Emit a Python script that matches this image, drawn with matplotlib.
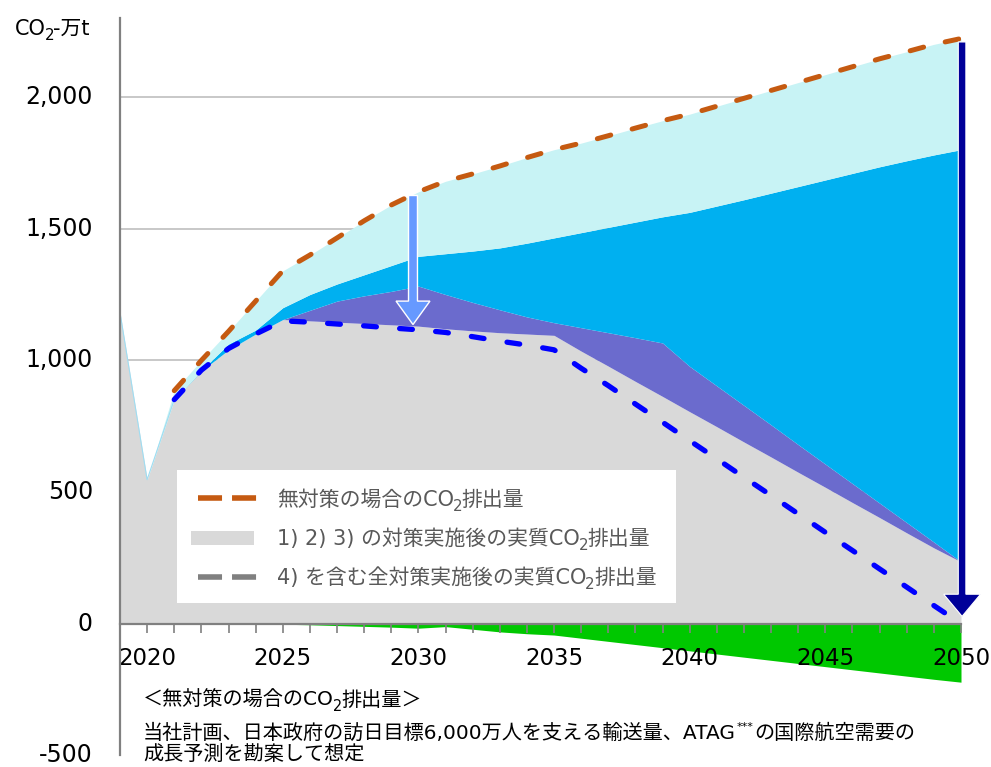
import matplotlib
matplotlib.use("Agg")
import matplotlib.pyplot as plt
import numpy as np
from matplotlib.patches import FancyArrow, Rectangle
from matplotlib.lines import Line2D

plt.rcParams['lines.scale_dashes'] = False
FAM = ['DejaVu Sans', 'Noto Sans CJK JP']
plt.rcParams['font.family'] = FAM

# ---------------- data (万t-CO2) ----------------
years = list(range(2019, 2051))
# top of grey area: real emissions after measures 1) 2) 3)
gray = [1182, 547, 851, 960, 1040, 1100, 1155, 1150, 1145, 1140, 1135, 1130,
        1120, 1112, 1105, 1100, 1095, 1035, 978, 920, 863, 805, 748, 690,
        633, 575, 518, 460, 403, 345, 288, 235]
# top of purple band
purple_top = [1182, 547, 851, 960, 1040, 1100, 1155, 1190, 1225, 1245, 1262, 1282,
              1250, 1220, 1192, 1165, 1143, 1124, 1105, 1086, 1066, 977, 903, 829,
              755, 680, 606, 532, 458, 384, 310, 235]
# top of bright blue band
blue_top = [1182, 547, 851, 962, 1062, 1115, 1200, 1250, 1290, 1325, 1360, 1395,
            1405, 1415, 1427, 1445, 1465, 1485, 1505, 1525, 1545, 1562, 1586, 1610,
            1635, 1660, 1685, 1710, 1735, 1758, 1780, 1800]
# emissions without measures (top of light cyan band / orange dashed line)
no_measure = [1182, 547, 885, 1000, 1110, 1225, 1340, 1400, 1465, 1530, 1590, 1640,
              1680, 1708, 1738, 1770, 1800, 1825, 1853, 1882, 1910, 1935, 1965, 1995,
              2025, 2055, 2085, 2115, 2145, 2172, 2200, 2222]
# negative (removal) band
green = [0, 0, 0, 0, 0, 0, -2, -4, -7, -10, -13, -17,
         -11, -21, -31, -38, -43, -55, -67, -79, -91, -103, -115, -127,
         -139, -151, -163, -175, -187, -199, -211, -222]
# net emissions including measure 4) (blue dashed), 2021-2050
net_years = list(range(2021, 2051))
net = [851, 963, 1045, 1100, 1150, 1145, 1138, 1131, 1123, 1116,
       1106, 1090, 1073, 1058, 1040, 970, 904, 834, 765, 695,
       626, 556, 487, 417, 347, 278, 208, 139, 69, 0]

ytick_vals = [-500, 0, 500, 1000, 1500, 2000]
ytick_labels = ['-500', '0', '500', '1,000', '1,500', '2,000']
xlabel_years = [2020, 2025, 2030, 2035, 2040, 2045, 2050]

SUB = ("2", 0.72, 0.26, -1.0)
legend_labels = [
    [("無対策の場合のCO", 1, 0, -1.0), SUB, ("排出量", 1, 0, 0)],
    [("1) 2) 3) の対策実施後の実質CO", 1, 0, -1.0), SUB, ("排出量", 1, 0, 0)],
    [("4) を含む全対策実施後の実質CO", 1, 0, -1.0), SUB, ("排出量", 1, 0, 0)],
]

# ---------------- figure ----------------
W, H = 991, 767
fig = plt.figure(figsize=(W / 100, H / 100), dpi=100)
ax_top, ax_bot = 18.0, 755.4
ax = fig.add_axes([120 / W, (H - ax_bot) / H, (961 - 120) / W, (ax_bot - ax_top) / H])

yrs = np.array(years)
ax.fill_between(yrs, 0, gray, color='#D9D9D9', lw=0, zorder=1)
ax.fill_between(yrs, gray, purple_top, color='#6B6BCD', lw=0, zorder=1)
ax.fill_between(yrs, purple_top, blue_top, color='#00B0F0', lw=0, zorder=1)
ax.fill_between(yrs, blue_top, no_measure, color='#C8F3F5', lw=0, zorder=1)
ax.fill_between(yrs, green, 0, color='#00C800', lw=0, zorder=1)
ax.plot(yrs[:3], gray[:3], color='#9FDDF2', lw=0.8, zorder=1.1)

for v in [500, 1000, 1500, 2000]:
    ax.axhline(v, color='#BFBFBF', lw=1.2, zorder=0.5)

ax.plot(yrs[2:], no_measure[2:], color='#C55A11', lw=3.6, dashes=(10, 16),
        dash_capstyle='round', zorder=4)
ax.plot(net_years, net, color='#0000FF', lw=3.8, dashes=(9.2, 16.8),
        dash_capstyle='round', zorder=4)

# arrows
ax.add_patch(FancyArrow(2029.8, 1626, 0, 1136 - 1626, width=0.33, head_width=1.25,
                        head_length=89, length_includes_head=True,
                        fc='#6699FF', ec='white', lw=1.0, zorder=5))
ax.add_patch(FancyArrow(2050.04, 2209, 0, 28 - 2209, width=0.28, head_width=1.36,
                        head_length=84, length_includes_head=True,
                        fc='#000099', ec='white', lw=0.8, zorder=6, clip_on=False))

ax.set_xlim(2019, 2050)
ax.set_ylim(-500, 2300)

for s in ['top', 'right']:
    ax.spines[s].set_visible(False)
ax.spines['left'].set_color('#808080')
ax.spines['left'].set_linewidth(1.6)
ax.spines['bottom'].set_position(('data', 0))
ax.spines['bottom'].set_color('#808080')
ax.spines['bottom'].set_linewidth(1.6)

ax.set_yticks(ytick_vals)
ax.set_yticklabels(ytick_labels, fontsize=17, family='DejaVu Sans')
ax.tick_params(axis='y', length=0, pad=19.5)
for lab in ax.get_yticklabels():
    lab.set_va('center')
ax.set_xticks(years)
ax.set_xticklabels([str(y) if y in xlabel_years else '' for y in years],
                   fontsize=16.5, family='DejaVu Sans')
ax.tick_params(axis='x', direction='out', length=6.5, width=1.2, color='#808080', pad=10.5)

# ---------------- text helpers ----------------
renderer = fig.canvas.get_renderer()


def rich(x, y, runs, size, color='black', zorder=6):
    """Draw runs of text left to right; y is the baseline in pixels from the top."""
    cx = x
    for s, sc, dy, gap in runs:
        t = fig.text(cx / W, 1 - (y + dy * size * 100 / 72) / H, s, fontsize=size * sc,
                     color=color, va='baseline', ha='left', zorder=zorder, family=FAM)
        bb = t.get_window_extent(renderer=renderer)
        cx = bb.x1 + gap


# y-axis unit
rich(15, 35, [("CO", 1, 0, -1.0), SUB, ("-万t", 1, 0, 0)], 15)

# legend box
fig.patches.append(Rectangle((177 / W, 1 - 603 / H), (676 - 177) / W, (603 - 470) / H,
                             transform=fig.transFigure, facecolor='white',
                             edgecolor='none', zorder=3))
fig.lines.append(Line2D([198 / W, 257 / W], [1 - 498 / H] * 2, transform=fig.transFigure,
                        color='#C55A11', lw=4, dashes=(17.3, 7.2), zorder=4))
fig.patches.append(Rectangle((191 / W, 1 - 545 / H), (254 - 191) / W, 14 / H,
                             transform=fig.transFigure, facecolor='#D9D9D9',
                             edgecolor='none', zorder=4))
fig.lines.append(Line2D([198 / W, 257 / W], [1 - 577 / H] * 2, transform=fig.transFigure,
                        color='#808080', lw=4, dashes=(17.3, 7.2), zorder=4))
for runs, base in zip(legend_labels, [506, 545, 584]):
    rich(277, base, runs, 15, color='#595959')

# notes
rich(143, 706, [("＜無対策の場合のCO", 1, 0, -1.0), SUB, ("排出量＞", 1, 0, 0)], 14.5)
rich(143, 739, [("当社計画、日本政府の訪日目標6,000万人を支える輸送量、ATAG", 1, 0, 0.5),
                ("***", 0.55, -0.45, 0.5), ("の国際航空需要の", 1, 0, 0)], 14.5)
rich(143, 760, [("成長予測を勘案して想定", 1, 0, 0)], 14.5)

fig.savefig("out.png", dpi=100)
